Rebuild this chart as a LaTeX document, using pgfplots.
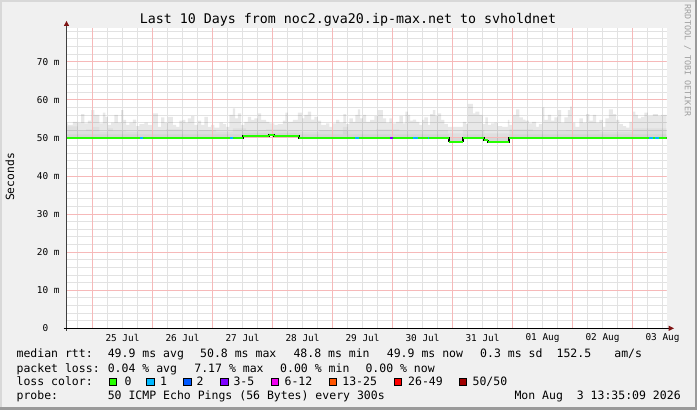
\documentclass[border=0pt]{standalone}
\usepackage{pgfplots}
\pgfplotsset{compat=1.18}
\usepgfplotslibrary{fillbetween}
\usepackage{fontspec}
\setmainfont{DejaVu Sans Mono}
\definecolor{bgc}{HTML}{F0F0F0}
\definecolor{mgrid}{RGB}{246,185,185}
\definecolor{ngrid}{RGB}{226,226,226}
\definecolor{lc0}{HTML}{26FF00}
\definecolor{lc1}{HTML}{00B8FF}
\definecolor{lc2}{HTML}{0059FF}
\definecolor{lc3}{HTML}{7E00FF}
\definecolor{lc6}{HTML}{EE00EE}
\definecolor{lc13}{HTML}{FF5500}
\definecolor{lc26}{HTML}{FF0000}
\definecolor{lc50}{HTML}{A10000}
\definecolor{arrowred}{HTML}{7F1414}
\definecolor{shadea}{HTML}{D8D8D8}
\definecolor{shadeb}{HTML}{9A9A9A}
\pagecolor{bgc}
\begin{document}
\begin{tikzpicture}[x=1pt,y=1pt]
\path (0,0) rectangle (697,410);
\fill[shadea] (0,0) rectangle (2,410);
\fill[shadea] (0,408) rectangle (697,410);
\fill[shadeb] (0,0) rectangle (697,2.5);
\fill[shadeb] (695,0) rectangle (697,410);
\begin{axis}[
  at={(66.5pt,81.7pt)}, anchor=south west,
  scale only axis, width=600pt, height=300pt,
  xmin=-10.4, xmax=229.6, ymin=0, ymax=78.75,
  axis line style={draw=none},
  axis background/.style={fill=white},
  xtick={-6,0,...,228},
  xticklabels={{},{},{},25 Jul,{},{},{},26 Jul,{},{},{},27 Jul,{},{},{},28 Jul,{},{},{},29 Jul,{},{},{},30 Jul,{},{},{},31 Jul,{},{},{},01 Aug,{},{},{},02 Aug,{},{},{},03 Aug},
  ytick={0,2,...,78},
  yticklabels={0\hphantom{mm},{},{},{},{},10 m,{},{},{},{},20 m,{},{},{},{},30 m,{},{},{},{},40 m,{},{},{},{},50 m,{},{},{},{},60 m,{},{},{},{},70 m},
  xmajorgrids=true, ymajorgrids=true,
  major grid style={draw=ngrid, line width=0.8pt},
  major tick length=0pt, minor tick length=0pt, tick style={draw=none},
  ticklabel style={font=\fontsize{9.4}{11}\selectfont},
  xticklabel style={yshift=-2pt},
  yticklabel style={xshift=-3.4pt},
]
\addplot[name path=med, draw=none, const plot mark left] coordinates {
(-10.4,50.0) (60.1,50.5) (70.7,50.8) (72.7,50.5) (82.7,50.0) (142.5,49.0) (148.1,50.0)
(156.7,49.3) (158.1,48.8) (161.4,48.9) (166.7,50.0) (229.6,50.0)};
\addplot[name path=top, draw=none, const plot mark left] coordinates {
(-10.4,53.8) (-9.9,53.4) (-7.9,54.2) (-5.9,54.0) (-4.6,56.2) (-3.3,53.8) (-1.9,54.5) (-0.6,57.3) (0.7,56.0) (2.7,53.8) (4.1,56.6) (5.1,55.5) (6.1,53.4) (7.4,54.0) (8.7,56.0) (10.1,54.0) (11.4,57.3) (12.3,54.7) (13.4,53.4) (14.7,54.0) (16.1,54.8) (17.4,53.1) (18.7,53.6) (20.7,54.0) (22.1,53.4) (24.1,56.4) (26.1,52.9) (27.4,55.4) (28.7,54.0) (30.1,55.5) (32.1,53.4) (33.4,52.9) (34.7,54.5) (36.1,54.7) (37.1,54.0) (38.1,55.1) (39.4,55.7) (40.7,53.4) (42.1,54.5) (43.4,53.4) (44.7,55.5) (46.1,52.9) (47.4,53.4) (48.7,52.7) (50.7,54.0) (52.1,53.6) (53.4,52.9) (54.7,56.0) (56.1,57.7) (57.0,55.1) (58.1,56.4) (59.4,53.4) (60.7,54.2) (62.1,55.5) (63.4,54.7) (64.7,55.1) (66.1,56.4) (67.4,54.7)
(69.4,54.2) (70.7,53.8) (72.7,53.4) (74.1,53.6) (76.1,54.5) (77.1,56.6) (78.1,54.2) (80.1,54.7) (82.1,56.6) (83.8,55.1) (84.7,56.0) (86.1,56.9) (87.4,54.8) (88.7,55.5) (90.1,54.5) (91.4,53.4) (93.4,53.8) (94.7,52.9) (96.1,53.8) (97.4,54.7) (98.7,54.0) (100.3,56.2) (101.4,53.6) (102.7,55.1) (104.1,54.2) (105.1,56.0) (106.1,57.5) (107.0,55.1) (108.1,56.0) (109.4,54.2) (111.0,54.7) (112.7,55.7) (114.1,57.3) (116.1,55.1) (117.4,54.0) (118.7,55.1) (119.8,53.8) (121.4,54.2) (122.7,55.7) (124.1,53.8) (125.1,56.9) (126.1,56.0) (127.0,54.5) (128.1,54.8) (129.4,54.2) (130.7,53.4) (131.8,54.7) (132.7,55.4) (134.1,53.4) (135.0,56.2) (136.1,57.3) (137.1,55.7) (138.1,56.4) (139.4,54.7) (140.7,53.6) (142.1,52.9) (148.1,54.2)
(149.4,53.6) (150.1,58.9) (152.1,56.4) (153.1,56.9) (154.7,56.0) (156.1,53.6) (157.1,55.4) (158.1,53.4) (159.4,53.8) (160.7,54.0) (162.1,53.1) (163.8,52.9) (166.1,54.7) (166.7,53.4) (168.1,56.0) (169.4,57.5) (170.7,55.4) (172.1,54.8) (173.1,54.5) (174.5,53.8) (175.8,54.2) (177.4,52.9) (178.5,53.6) (179.8,58.0) (180.7,54.7) (182.1,56.0) (183.4,54.5) (184.7,55.4) (186.1,57.3) (187.4,54.0) (188.7,55.4) (190.1,57.3) (191.0,58.2) (192.1,54.0) (193.1,52.9) (194.7,55.1) (196.1,54.0) (197.4,56.2) (198.7,54.5) (200.1,56.0) (201.4,54.0) (202.7,54.7) (204.1,52.9) (205.1,55.1) (206.5,57.5) (208.1,56.2) (209.4,54.7) (210.7,53.6) (212.1,53.1) (213.4,52.7) (214.7,54.2) (216.1,56.9) (217.1,56.0) (218.1,55.1) (219.4,55.5) (220.7,56.6) (222.1,55.7) (224.1,56.2) (226.1,55.7) (227.4,56.0) (229.6,56.0)};
\addplot[name path=mid, draw=none, const plot mark left] coordinates {
(-10.4,53.0) (-5.9,51.9) (-2.6,52.2) (0.1,52.9) (2.7,51.6) (6.1,52.5) (8.1,51.9) (13.4,51.6) (18.1,52.0) (24.1,51.9) (29.4,52.2) (36.1,51.8) (42.7,52.0) (49.4,51.6) (56.1,52.5) (61.4,52.0) (69.4,52.2) (77.4,51.9) (82.7,51.6) (90.7,52.0) (100.1,52.9) (102.1,51.9) (113.4,52.2) (122.7,51.8) (132.1,52.0) (142.1,51.2) (148.1,52.0) (156.7,51.2) (166.7,52.2) (176.1,51.9) (189.4,52.0) (202.7,51.6) (216.1,52.5) (229.6,52.5)};
\addplot[name path=dark, draw=none, const plot mark left] coordinates {
(-10.4,50.9) (60.1,51.3) (82.7,50.9) (100.1,51.8) (102.1,50.9) (142.5,50.2) (148.1,50.9) (156.7,50.0) (166.7,50.9) (229.6,50.9)};
\addplot[fill=black, fill opacity=0.09, draw=none] fill between[of=top and med];
\addplot[fill=black, fill opacity=0.035, draw=none] fill between[of=mid and med];
\addplot[fill=black, fill opacity=0.04, draw=none] fill between[of=dark and med];
% major (red) grid lines over the grey ones
\begin{scope}[mgrid, line width=0.8pt]
\draw (axis cs:0,0) -- (axis cs:0,78.75);
\draw (axis cs:24,0) -- (axis cs:24,78.75);
\draw (axis cs:48,0) -- (axis cs:48,78.75);
\draw (axis cs:72,0) -- (axis cs:72,78.75);
\draw (axis cs:96,0) -- (axis cs:96,78.75);
\draw (axis cs:120,0) -- (axis cs:120,78.75);
\draw (axis cs:144,0) -- (axis cs:144,78.75);
\draw (axis cs:168,0) -- (axis cs:168,78.75);
\draw (axis cs:192,0) -- (axis cs:192,78.75);
\draw (axis cs:216,0) -- (axis cs:216,78.75);
\draw (axis cs:-10.4,10) -- (axis cs:229.6,10);
\draw (axis cs:-10.4,20) -- (axis cs:229.6,20);
\draw (axis cs:-10.4,30) -- (axis cs:229.6,30);
\draw (axis cs:-10.4,40) -- (axis cs:229.6,40);
\draw (axis cs:-10.4,50) -- (axis cs:229.6,50);
\draw (axis cs:-10.4,60) -- (axis cs:229.6,60);
\draw (axis cs:-10.4,70) -- (axis cs:229.6,70);
\end{scope}
\addplot[black, line width=1.6pt, const plot mark left] coordinates {
(-10.4,50.0) (60.1,50.5) (70.7,50.8) (72.7,50.5) (82.7,50.0) (142.5,49.0) (148.1,50.0)
(156.7,49.3) (158.1,48.8) (161.4,48.9) (166.7,50.0) (229.6,50.0)};
\addplot[lc0, line width=2pt, jump mark left] coordinates {
(-10.4,50.0) (60.1,50.5) (70.7,50.8) (72.7,50.5) (82.7,50.0) (142.5,49.0) (148.1,50.0)
(156.7,49.3) (158.1,48.8) (161.4,48.9) (166.7,50.0) (229.6,50.0)};
\addplot[lc1, line width=2pt] coordinates {(19.0,50.0) (20.3,50.0)};
\addplot[lc1, line width=2pt] coordinates {(55.0,50.0) (56.3,50.0)};
\addplot[lc1, line width=2pt] coordinates {(105.1,50.0) (106.5,50.0)};
\addplot[lc1, line width=2pt] coordinates {(128.1,50.0) (130.1,50.0)};
\addplot[lc1, line width=2pt] coordinates {(134.1,50.0) (134.7,50.0)};
\addplot[lc1, line width=2pt] coordinates {(222.7,50.0) (224.1,50.0)};
\addplot[lc1, line width=2pt] coordinates {(225.1,50.0) (226.7,50.0)};
\addplot[lc3, line width=2pt] coordinates {(119.0,50.0) (120.0,50.0)};
\end{axis}
% axis lines and arrows
\draw[black!75, line width=1pt] (66.5,79) -- (66.5,386);
\fill[arrowred] (63.8,384) -- (69.2,384) -- (66.5,389) -- cycle;
\draw[black, line width=1pt] (63.5,81.7) -- (669,81.7);
\fill[arrowred] (668.5,79) -- (668.5,84.4) -- (674,81.7) -- cycle;
% titles
\node[anchor=base, inner sep=0pt, font=\fontsize{13.3}{15}\selectfont] at (348,386) {Last 10 Days from noc2.gva20.ip-max.net to svholdnet};
\node[rotate=90, inner sep=0pt, font=\fontsize{11.3}{13}\selectfont] at (10,233) {Seconds};
\node[rotate=-90, inner sep=0pt, text=black!38, font=\fontsize{8.4}{10}\selectfont] at (687.7,349.5) {RRDTOOL / TOBI OETIKER};
% legend
\begin{scope}[every node/.style={anchor=base west, inner sep=0pt, font=\fontsize{11.5}{13}\selectfont}]
\node at (16.4,52.5) {median rtt:};
\node at (107.6,52.5) {49.9 ms avg};
\node at (200,52.5) {50.8 ms max};
\node at (293.3,52.5) {48.8 ms min};
\node at (386.7,52.5) {49.9 ms now};
\node at (480,52.5) {0.3 ms sd};
\node at (556.4,52.5) {152.5};
\node at (614.2,52.5) {am/s};
\node at (16.4,37.7) {packet loss:};
\node at (107.6,37.7) {0.04 \% avg};
\node at (194.2,37.7) {7.17 \% max};
\node at (280,37.7) {0.00 \% min};
\node at (365.3,37.7) {0.00 \% now};
\node at (16.4,24.3) {loss color:};
\node at (124.4,24.3) {0};
\node at (160,24.3) {1};
\node at (196.4,24.3) {2};
\node at (233.3,24.3) {3-5};
\node at (284.4,24.3) {6-12};
\node at (342.2,24.3) {13-25};
\node at (408,24.3) {26-49};
\node at (472.4,24.3) {50/50};
\node at (16.4,10) {probe:};
\node at (107.6,10) {50 ICMP Echo Pings (56 Bytes) every 300s};
\node[anchor=base east] at (680.9,10) {Mon Aug~~3 13:35:09 2026};
\end{scope}
\begin{scope}[line width=0.6pt]
\filldraw[fill=lc0, draw=black] (108.9,24.3) rectangle ++(7.5,7.7);
\filldraw[fill=lc1, draw=black] (146.7,24.3) rectangle ++(7.5,7.7);
\filldraw[fill=lc2, draw=black] (183.6,24.3) rectangle ++(7.5,7.7);
\filldraw[fill=lc3, draw=black] (220.4,24.3) rectangle ++(7.5,7.7);
\filldraw[fill=lc6, draw=black] (271.1,24.3) rectangle ++(7.5,7.7);
\filldraw[fill=lc13, draw=black] (328.9,24.3) rectangle ++(7.5,7.7);
\filldraw[fill=lc26, draw=black] (394.2,24.3) rectangle ++(7.5,7.7);
\filldraw[fill=lc50, draw=black] (459.1,24.3) rectangle ++(7.5,7.7);
\end{scope}
\end{tikzpicture}
\end{document}
